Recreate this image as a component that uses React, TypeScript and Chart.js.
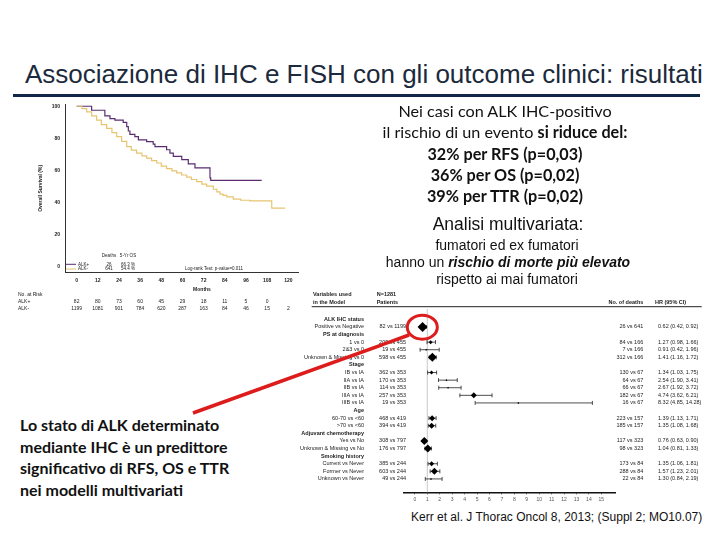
import React, { useEffect, useRef } from "react";
import { Chart, registerables } from "chart.js";
Chart.register(...registerables);

// ---------- Kaplan-Meier data ----------
const kmMonthTicks = [0, 12, 24, 36, 48, 60, 72, 84, 96, 108, 120];
const kmSurvTicks = [0, 20, 40, 60, 80, 100];
const alkPosMonths = [0, 8.5, 16, 18.9, 21.7, 26.4, 28.4, 29.3, 30.2, 33, 35, 39.7, 43.4, 44.4, 51, 52.9, 54.8, 59.6, 63.3, 67.1, 75.6, 76, 104.9];
const alkPosSurv = [100, 97.5, 94, 92.3, 91.3, 89.9, 87.2, 84.5, 82.4, 81, 79, 77.9, 76.3, 74.8, 72.8, 70.7, 68.6, 66.6, 63.9, 61.4, 55.2, 53.6, 53.6];
const alkNegMonths = [0, 3, 5.7, 8.5, 11.3, 14, 17, 20, 22.7, 25.5, 28.4, 31, 34, 37, 39.7, 42.5, 45.4, 48, 51, 54, 56.7, 59.5, 62.4, 65, 68.1, 71, 73.7, 77.5, 79.5, 81.3, 83, 85.1, 88.8, 93, 98.3, 110.6, 110.6, 118.2];
const alkNegSurv = [100, 98.5, 96.5, 94, 91.3, 88.5, 86.1, 83.5, 81, 78, 74.8, 72.6, 70.7, 69, 67.6, 66, 64.5, 62.6, 61, 59.6, 58.3, 57, 55.7, 54.2, 52.8, 51.3, 50.1, 48.1, 46.5, 45, 44.2, 43.3, 41.9, 41.2, 40.8, 40.8, 36.3, 36.3];
const groupNames = ["ALK+", "ALK-"];
const groupDeaths = ["26", "641"];
const group5yOS = ["66.3 %", "54.4 %"];
const atRiskPos = ["82", "80", "73", "60", "45", "29", "18", "11", "5", "0", ""];
const atRiskNeg = ["1199", "1081", "901", "784", "620", "287", "163", "84", "46", "15", "2"];
const logRankText = "Log-rank Test: p-value=0.011";

// ---------- Forest plot data ----------
const forestLabels = [
  "ALK IHC status", "Positive vs Negative", "PS at diagnosis", "1 vs 0", "2&3 vs 0", "Unknown & Missing vs 0",
  "Stage", "IB vs IA", "IIA vs IA", "IIB vs IA", "IIIA vs IA", "IIIB vs IA",
  "Age", "60-70 vs <60", ">70 vs <60", "Adjuvant chemotherapy", "Yes vs No", "Unknown & Missing vs No",
  "Smoking history", "Current vs Never", "Former vs Never", "Unknown vs Never",
];
const forestIsHeader = [true, false, true, false, false, false, true, false, false, false, false, false, true, false, false, true, false, false, true, false, false, false];
const forestPatients = ["", "82 vs 1199", "", "209 vs 455", "19 vs 455", "598 vs 455", "", "362 vs 353", "170 vs 353", "114 vs 353", "257 vs 353", "19 vs 353", "", "468 vs 419", "394 vs 419", "", "308 vs 797", "176 vs 797", "", "385 vs 244", "603 vs 244", "49 vs 244"];
const forestDeaths = ["", "26 vs 641", "", "84 vs 166", "7 vs 166", "312 vs 166", "", "130 vs 67", "64 vs 67", "66 vs 67", "182 vs 67", "16 vs 67", "", "223 vs 157", "185 vs 157", "", "117 vs 323", "98 vs 323", "", "173 vs 84", "288 vs 84", "22 vs 84"];
const forestHR = [null, 0.62, null, 1.27, 0.91, 1.41, null, 1.34, 2.54, 2.67, 4.74, 8.32, null, 1.39, 1.35, null, 0.76, 1.04, null, 1.35, 1.57, 1.30];
const forestLo = [null, 0.42, null, 0.98, 0.42, 1.16, null, 1.03, 1.90, 1.92, 3.62, 4.85, null, 1.13, 1.08, null, 0.63, 0.81, null, 1.06, 1.23, 0.84];
const forestHi = [null, 0.92, null, 1.66, 1.96, 1.72, null, 1.75, 3.41, 3.72, 6.21, 14.28, null, 1.71, 1.68, null, 0.90, 1.33, null, 1.81, 2.01, 2.19];
const forestCI = ["", "0.62 (0.42, 0.92)", "", "1.27 (0.98, 1.66)", "0.91 (0.42, 1.96)", "1.41 (1.16, 1.72)", "", "1.34 (1.03, 1.75)", "2.54 (1.90, 3.41)", "2.67 (1.92, 3.72)", "4.74 (3.62, 6.21)", "8.32 (4.85, 14.28)", "", "1.39 (1.13, 1.71)", "1.35 (1.08, 1.68)", "", "0.76 (0.63, 0.90)", "1.04 (0.81, 1.33)", "", "1.35 (1.06, 1.81)", "1.57 (1.23, 2.01)", "1.30 (0.84, 2.19)"];
const hrTicks = [0, 1, 2, 3, 4, 5, 6, 7, 8, 9, 10, 11, 12, 13, 14, 15];
// marker styling (sizes only)
const markerRadius = [0, 5, 0, 2, 1, 4.5, 0, 2, 1, 1, 3, 1, 0, 3, 3, 0, 4, 4, 0, 2.5, 3.5, 1];

const FONT = "'Liberation Sans', Arial, sans-serif";

const kmDecor = {
  id: "kmDecor",
  afterDraw(chart: any) {
    const { ctx, chartArea, scales } = chart;
    const xs = scales.x;
    ctx.save();
    ctx.fillStyle = "#222";
    // y title
    ctx.save();
    ctx.font = `bold 5px ${FONT}`;
    ctx.translate(40.5, (chartArea.top + chartArea.bottom) / 2);
    ctx.rotate(-Math.PI / 2);
    ctx.textAlign = "center";
    ctx.textBaseline = "middle";
    ctx.fillText("Overall Survival (%)", 0, 0);
    ctx.restore();
    // Months
    ctx.font = `bold 5px ${FONT}`;
    ctx.textAlign = "center";
    ctx.textBaseline = "middle";
    ctx.fillText("Months", 202, 193.3);
    // at risk table
    ctx.textAlign = "left";
    ctx.font = `5px ${FONT}`;
    ctx.fillText("No. at Risk", 18, 199);
    ctx.fillText(groupNames[0], 18, 205.7);
    ctx.fillText(groupNames[1], 18, 213);
    ctx.textAlign = "center";
    kmMonthTicks.forEach((m, i) => {
      const px = xs.getPixelForValue(m);
      ctx.fillText(atRiskPos[i], px, 205.7);
      ctx.fillText(atRiskNeg[i], px, 213);
    });
    // legend
    const colors = ["#5b2c6f", "#e8c470"];
    const ly = [168.3, 173];
    ctx.font = `4.5px ${FONT}`;
    ctx.fillText("Deaths", 109, 160);
    ctx.fillText("5-Yr OS", 128, 160);
    for (let i = 0; i < 2; i++) {
      ctx.strokeStyle = colors[i];
      ctx.lineWidth = 1;
      ctx.beginPath();
      ctx.moveTo(66, ly[i]);
      ctx.lineTo(76, ly[i]);
      ctx.stroke();
      ctx.textAlign = "left";
      ctx.fillText(groupNames[i], 78, ly[i]);
      ctx.textAlign = "center";
      ctx.fillText(groupDeaths[i], 109, ly[i]);
      ctx.fillText(group5yOS[i], 128, ly[i]);
    }
    ctx.fillText(logRankText, 214, 172.5);
    ctx.restore();
  },
};

const forestDecor = {
  id: "forestDecor",
  beforeDatasetsDraw(chart: any) {
    const { ctx, chartArea, scales } = chart;
    const xs = scales.x, ys = scales.y;
    ctx.save();
    // reference line at HR = 1
    const x1 = xs.getPixelForValue(1);
    ctx.strokeStyle = "#c8c8c8";
    ctx.lineWidth = 1;
    ctx.beginPath();
    ctx.moveTo(x1, chartArea.top);
    ctx.lineTo(x1, chartArea.bottom);
    ctx.stroke();
    // CI bars
    ctx.strokeStyle = "#222";
    ctx.lineWidth = 0.8;
    forestLabels.forEach((_, i) => {
      if (forestLo[i] == null) return;
      const y = ys.getPixelForValue(i);
      const a = xs.getPixelForValue(forestLo[i] as number);
      const b = xs.getPixelForValue(forestHi[i] as number);
      ctx.beginPath();
      ctx.moveTo(a, y); ctx.lineTo(b, y);
      ctx.moveTo(a, y - 2); ctx.lineTo(a, y + 2);
      ctx.moveTo(b, y - 2); ctx.lineTo(b, y + 2);
      ctx.stroke();
    });
    ctx.restore();
  },
  afterDraw(chart: any) {
    const { ctx, scales } = chart;
    const ys = scales.y;
    ctx.save();
    ctx.fillStyle = "#222";
    ctx.textBaseline = "middle";
    // header
    ctx.font = `bold 5.5px ${FONT}`;
    ctx.textAlign = "left";
    ctx.fillText("Variables used", 13, 11);
    ctx.fillText("in the Model", 13, 19.7);
    ctx.fillText("N=1281", 76.7, 11);
    ctx.fillText("Patients", 76.7, 19.7);
    ctx.textAlign = "right";
    ctx.fillText("No. of deaths", 343.3, 19.7);
    ctx.textAlign = "left";
    ctx.fillText("HR (95% CI)", 355, 19.7);
    ctx.strokeStyle = "#222";
    ctx.lineWidth = 1;
    ctx.beginPath();
    ctx.moveTo(11.7, 23.7);
    ctx.lineTo(401.7, 23.7);
    ctx.stroke();
    forestLabels.forEach((lab, i) => {
      const y = ys.getPixelForValue(i);
      ctx.font = forestIsHeader[i] ? `bold 5.5px ${FONT}` : `5.5px ${FONT}`;
      ctx.textAlign = "right";
      ctx.fillText(lab, 64, y);
      ctx.font = `5.5px ${FONT}`;
      if (forestPatients[i]) ctx.fillText(forestPatients[i], 106, y);
      if (forestDeaths[i]) ctx.fillText(forestDeaths[i], 343.3, y);
      ctx.textAlign = "left";
      if (forestCI[i]) ctx.fillText(forestCI[i], 358, y);
    });
    ctx.restore();
  },
};

function KMChart() {
  const ref = useRef<HTMLCanvasElement>(null);
  useEffect(() => {
    const chart = new Chart(ref.current as HTMLCanvasElement, {
      type: "line",
      data: {
        datasets: [
          {
            label: groupNames[1],
            data: alkNegMonths.map((m, i) => ({ x: m, y: alkNegSurv[i] })),
            borderColor: "#e8c470",
            borderWidth: 1.2,
            pointRadius: 0,
            stepped: true,
          },
          {
            label: groupNames[0],
            data: alkPosMonths.map((m, i) => ({ x: m, y: alkPosSurv[i] })),
            borderColor: "#5b2c6f",
            borderWidth: 1.2,
            pointRadius: 0,
            stepped: true,
          },
        ],
      },
      options: {
        animation: false,
        responsive: false,
        devicePixelRatio: 1,
        layout: { padding: { left: 0, right: 2, top: 6, bottom: 0 } },
        plugins: { legend: { display: false }, tooltip: { enabled: false } },
        scales: {
          x: {
            type: "linear",
            min: -6.6,
            max: 125.5,
            grid: { display: false, drawTicks: false, tickLength: 0 },
            border: { display: true, color: "#333", width: 1 },
            ticks: { font: { size: 5, weight: "bold", family: FONT }, color: "#222", padding: 5, maxRotation: 0, autoSkip: false },
            afterBuildTicks: (s: any) => { s.ticks = kmMonthTicks.map((v) => ({ value: v })); },
            afterFit: (s: any) => { s.height = 51.3; },
          },
          y: {
            type: "linear",
            min: -4.1,
            max: 101.4,
            grid: { display: false, drawTicks: false, tickLength: 0 },
            border: { display: true, color: "#333", width: 1 },
            ticks: { font: { size: 5, weight: "bold", family: FONT }, color: "#222", padding: 5, autoSkip: false },
            afterBuildTicks: (s: any) => { s.ticks = kmSurvTicks.map((v) => ({ value: v })); },
            afterFit: (s: any) => { s.width = 65; },
          },
        },
      },
      plugins: [kmDecor],
    } as any);
    return () => chart.destroy();
  }, []);
  return <canvas ref={ref} width={300} height={228} style={{ position: "absolute", left: 0, top: 96, width: 300, height: 228 }} />;
}

function ForestChart() {
  const ref = useRef<HTMLCanvasElement>(null);
  useEffect(() => {
    const pts: any[] = [];
    const radii: number[] = [];
    forestHR.forEach((v, i) => {
      if (v != null) { pts.push({ x: v, y: i }); radii.push(markerRadius[i]); }
    });
    const chart = new Chart(ref.current as HTMLCanvasElement, {
      type: "scatter",
      data: {
        datasets: [
          {
            data: pts,
            pointStyle: "rectRot",
            pointRadius: radii,
            backgroundColor: "#000",
            borderColor: "#000",
            borderWidth: 0,
          },
        ],
      },
      options: {
        animation: false,
        responsive: false,
        devicePixelRatio: 1,
        layout: { padding: { left: 103.3, right: 105, top: 26, bottom: 0 } },
        plugins: { legend: { display: false }, tooltip: { enabled: false } },
        scales: {
          x: {
            type: "linear",
            min: -0.93,
            max: 16.1,
            grid: { display: true, drawOnChartArea: false, drawTicks: true, tickLength: 2, color: "#333" },
            border: { display: true, color: "#111", width: 1.5 },
            ticks: { font: { size: 5, family: FONT }, color: "#555", padding: 2, maxRotation: 0, autoSkip: false },
            afterBuildTicks: (s: any) => { s.ticks = hrTicks.map((v) => ({ value: v })); },
            afterFit: (s: any) => { s.height = 15.7; },
          },
          y: {
            type: "linear",
            reverse: true,
            min: -1.36,
            max: 22.76,
            display: false,
          },
        },
      },
      plugins: [forestDecor],
    } as any);
    return () => chart.destroy();
  }, []);
  return <canvas ref={ref} width={420} height={225} style={{ position: "absolute", left: 300, top: 283, width: 420, height: 225 }} />;
}

function Txt(props: { cx?: number; x?: number; y: number; size: number; family: string; weight?: string | number; color?: string; children: any }) {
  const lh = props.size * 1.2;
  const base: any = {
    position: "absolute",
    top: props.y - lh / 2,
    height: lh,
    lineHeight: `${lh}px`,
    fontSize: props.size,
    fontFamily: props.family,
    fontWeight: props.weight ?? "normal",
    color: props.color ?? "#000",
    whiteSpace: "nowrap",
  };
  if (props.cx != null) {
    base.left = props.cx - 250;
    base.width = 500;
    base.textAlign = "center";
  } else {
    base.left = props.x;
  }
  return <div style={base}>{props.children}</div>;
}

const HUM = "Lato, 'Noto Sans', sans-serif";

export default function App() {
  return (
    <div style={{ position: "fixed", left: 0, top: 0, width: 720, height: 540, background: "#fff", overflow: "hidden" }}>
      <Txt x={25} y={75} size={26} family={FONT} color="#1b2a3c">Associazione di IHC e FISH con gli outcome clinici: risultati</Txt>
      <div style={{ position: "absolute", left: 13, top: 94, width: 687, height: 3, background: "#0f2847" }} />
      <KMChart />
      <ForestChart />
      <Txt cx={505} y={111} size={16.2} family={HUM} color="#111">Nei casi con ALK IHC-positivo</Txt>
      <Txt cx={505} y={132} size={16.2} family={HUM} color="#111">il rischio di un evento <b>si riduce del:</b></Txt>
      <Txt cx={505} y={154} size={16.2} family={HUM} weight="bold" color="#111">32% per RFS (p=0,03)</Txt>
      <Txt cx={505} y={175} size={16.2} family={HUM} weight="bold" color="#111">36% per OS (p=0,02)</Txt>
      <Txt cx={505} y={196} size={16.2} family={HUM} weight="bold" color="#111">39% per TTR (p=0,02)</Txt>
      <Txt cx={508} y={224} size={17.5} family={FONT} color="#111">Analisi multivariata:</Txt>
      <Txt cx={507} y={245} size={14} family={FONT} color="#111">fumatori ed ex fumatori</Txt>
      <Txt cx={508} y={262} size={14} family={FONT} color="#111">hanno un <b><i>rischio di morte più elevato</i></b></Txt>
      <Txt cx={507} y={279} size={14} family={FONT} color="#111">rispetto ai mai fumatori</Txt>
      <Txt x={20} y={425} size={16} family={HUM} weight="bold" color="#111">Lo stato di ALK determinato</Txt>
      <Txt x={20} y={447} size={16} family={HUM} weight="bold" color="#111">mediante IHC è un predittore</Txt>
      <Txt x={20} y={468} size={16} family={HUM} weight="bold" color="#111">significativo di RFS, OS e TTR</Txt>
      <Txt x={20} y={490} size={16} family={HUM} weight="bold" color="#111">nei modelli multivariati</Txt>
      <Txt x={411} y={517} size={12} family={FONT} color="#111">Kerr et al. J Thorac Oncol 8, 2013; (Suppl 2; MO10.07)</Txt>
      <svg width={720} height={540} style={{ position: "absolute", left: 0, top: 0, pointerEvents: "none" }}>
        <line x1={409} y1={335} x2={193} y2={413} stroke="#dd1c1c" strokeWidth={3.5} />
        <ellipse cx={422.3} cy={327.2} rx={15} ry={12} fill="none" stroke="#dd1c1c" strokeWidth={3} />
      </svg>
    </div>
  );
}
